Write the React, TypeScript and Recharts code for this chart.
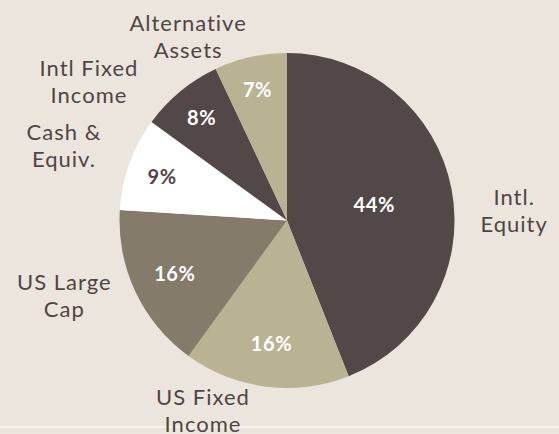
import React from "react";
import { PieChart, Pie, Cell } from "recharts";

const categories = [
  "Intl. Equity",
  "US Fixed Income",
  "US Large Cap",
  "Cash & Equiv.",
  "Intl Fixed Income",
  "Alternative Assets",
];
const values = [44, 16, 16, 9, 8, 7];
const sliceColors = ["#524847", "#b9b393", "#857b6b", "#ffffff", "#524847", "#b9b393"];
const pctColors = ["#ffffff", "#ffffff", "#ffffff", "#4f4545", "#ffffff", "#ffffff"];
// label layout nudges (px) relative to radial anchor just outside the pie
const labelNudge: [number, number][] = [
  [43, 25.5],
  [-60.5, 3.5],
  [-53, -5],
  [-46.6, -11],
  [-78.5, 5],
  [-58, -1.5],
];

const data = categories.map((name, i) => ({ name, value: values[i] }));

const RAD = Math.PI / 180;
const FONT = "Lato, 'Noto Sans', sans-serif";

function renderLabel(props: any) {
  const { cx, cy, midAngle, outerRadius, index, value } = props;
  const cos = Math.cos(-midAngle * RAD);
  const sin = Math.sin(-midAngle * RAD);
  const rIn = outerRadius * (0.86 - value * 0.0075);
  const ix = cx + rIn * cos;
  const iy = cy + rIn * sin;
  const rOut = outerRadius + 20;
  const ox = cx + rOut * cos + labelNudge[index][0];
  const oy = cy + rOut * sin + labelNudge[index][1];
  const name: string = categories[index];
  const sp = name.lastIndexOf(" ");
  const l1 = name.slice(0, sp);
  const l2 = name.slice(sp + 1);
  return (
    <g>
      <text
        x={ix}
        y={iy}
        fill={pctColors[index]}
        textAnchor="middle"
        dominantBaseline="central"
        fontFamily={FONT}
        fontWeight={700}
        fontSize={20}
        letterSpacing={0.6}
      >
        {value}%
      </text>
      <text
        x={ox}
        y={oy - 14}
        fill="#4f4545"
        textAnchor="middle"
        dominantBaseline="central"
        fontFamily={FONT}
        fontSize={22}
        letterSpacing={1}
      >
        {l1}
      </text>
      <text
        x={ox}
        y={oy + 13}
        fill="#4f4545"
        textAnchor="middle"
        dominantBaseline="central"
        fontFamily={FONT}
        fontSize={22}
        letterSpacing={1}
      >
        {l2}
      </text>
    </g>
  );
}

export default function App() {
  return (
    <div
      style={{
        position: "absolute",
        left: 0,
        top: 0,
        width: 559,
        height: 434,
        background: "#ece5dd",
        overflow: "hidden",
      }}
    >
      <div
        style={{
          position: "absolute",
          left: 0,
          top: 426,
          width: 559,
          height: 2,
          background: "#f6f2ea",
        }}
      />
      <div style={{ position: "absolute", left: 0, top: 0 }}>
        <PieChart width={559} height={434} margin={{ top: 0, right: 0, bottom: 0, left: 0 }}>
          <Pie
            data={data}
            dataKey="value"
            nameKey="name"
            cx={287}
            cy={220.5}
            outerRadius={167.5}
            startAngle={90}
            endAngle={-270}
            stroke="none"
            label={renderLabel}
            labelLine={false}
            isAnimationActive={false}
          >
            {data.map((d, i) => (
              <Cell key={d.name} fill={sliceColors[i]} />
            ))}
          </Pie>
        </PieChart>
      </div>
    </div>
  );
}
